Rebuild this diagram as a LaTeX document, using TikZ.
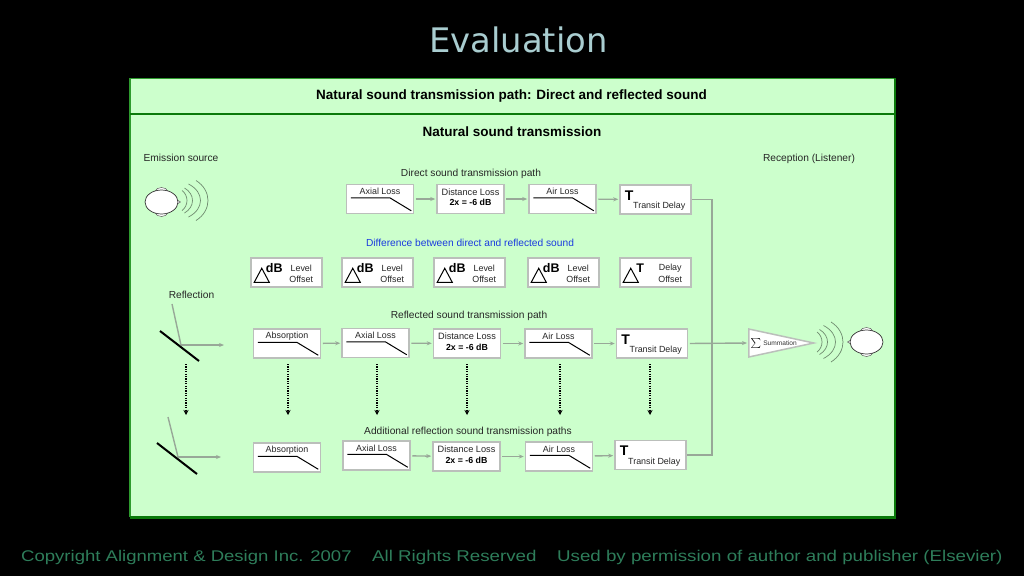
\documentclass[tikz,border=0pt]{standalone}
\usepackage{fontspec}
\setmainfont{Liberation Sans}
\newfontfamily\titlefont{DejaVu Sans}
\newfontfamily\footfont[FakeStretch=1.2]{Liberation Sans}
\usetikzlibrary{calc}
\usetikzlibrary{arrows.meta}
\usetikzlibrary{shapes.geometric}
\definecolor{panelgreen}{HTML}{CCFFCC}
\definecolor{edgegreen}{HTML}{2E9B2E}
\definecolor{darkgreen}{HTML}{0A7A0A}
\definecolor{flowgray}{HTML}{98A898}
\definecolor{boxgray}{HTML}{BBBFBB}
\definecolor{wavegray}{HTML}{6F8A6F}
\definecolor{titleblue}{HTML}{A9CDD0}
\definecolor{footgreen}{HTML}{2E7D5A}
\definecolor{diffblue}{HTML}{1A3ADF}
\tikzset{
  blockbox/.style={draw=boxgray,fill=white,line width=1.5pt,minimum width=#1,minimum height=29pt,inner sep=0pt},
  blockbox/.default=67pt,
  lbl/.style={text=black!85,inner sep=0pt,font=\fontsize{10.2}{12}\selectfont},
  small/.style={text=black!85,inner sep=0pt,font=\fontsize{8.9}{11}\selectfont},
  boldsmall/.style={text=black,inner sep=0pt,font=\fontsize{8.8}{11}\selectfont\bfseries},
  heading/.style={text=black,inner sep=0pt,font=\fontsize{13.5}{15}\selectfont\bfseries},
  flow/.style={-{Stealth[length=5pt,width=4pt]},flowgray,line width=1.4pt,shorten <=1.5pt,shorten >=1pt},
  bus/.style={flowgray,line width=1.4pt},
  dots/.style={-{Stealth[length=5pt,width=5pt]},black,dash pattern=on 1.2pt off 1.2pt,line width=1.2pt},
  curve/.style={black,line width=1pt},
  wave/.style={wavegray,line width=.7pt},
  foot/.style={text=footgreen,inner sep=0pt,font=\footfont\fontsize{15.6}{18}\selectfont}
}
% block with a loss curve
\newcommand{\lossblock}[4]{
  \node[blockbox] (#1) at (#2,#3) {};
  \node[small] (#1t) at ($(#1.north)+(0,8)$) {#4};
  \draw[curve] ($(#1.north west)+(5,14)$) -- ($(#1.north west)+(44,14)$) -- ($(#1.north east)+(-3,27)$);
}
\newcommand{\distblock}[3]{
  \node[blockbox] (#1) at (#2,#3) {};
  \node[small,font=\fontsize{9.2}{11}\selectfont] (#1t) at ($(#1.north)+(0,8)$) {Distance Loss};
  \node[boldsmall] (#1b) at ($(#1.north)+(0,19)$) {2x = -6 dB};
}
\newcommand{\delayblock}[3]{
  \node[blockbox=71pt] (#1) at (#2,#3) {};
  \node[text=black,inner sep=0pt,font=\fontsize{14}{16}\selectfont\bfseries] (#1s) at ($(#1.north west)+(10,11)$) {T};
  \node[small] (#1t) at ($(#1.north west)+(40,22)$) {Transit Delay};
}
\newcommand{\offsetblock}[5]{
  \node[blockbox=71pt] (#1) at (#2,272.5) {};
  \draw[black,line width=1pt] ($(#1.north west)+(4,25)$) -- ($(#1.north west)+(19,25)$) -- ($(#1.north west)+(11.5,11)$) -- cycle;
  \node[text=black,inner sep=0pt,font=\fontsize{12.5}{15}\selectfont\bfseries] (#1s) at ($(#1.north west)+(#5,11)$) {#3};
  \node[small] (#1a) at ($(#1.north west)+(51,11)$) {#4};
  \node[small] (#1b) at ($(#1.north west)+(51,22)$) {Offset};
}
% head seen from above, and its sound waves
\newcommand{\headshape}[3]{
  \begin{scope}[shift={(#1,#2)},xscale=#3]
  \draw[gray!70!black,fill=white,line width=.5pt] (14,-3) -- (19,0) -- (14,3);
  \draw[gray!70!black,fill=white,line width=.5pt] (-7,-10) .. controls (-5,-16) and (5,-16) .. (7,-10);
  \draw[gray!70!black,fill=white,line width=.5pt] (-7,10) .. controls (-5,16) and (5,16) .. (7,10);
  \draw[black!80,fill=white,line width=.7pt] (0,0) ellipse (16.5 and 12);
  \end{scope}
}
\newcommand{\soundwaves}[2]{
  \begin{scope}[shift={(#1,#2)}]
  \foreach \p/\h/\s in {-21/10/5,-15.5/12.5/8,-7.5/16.5/12,0/20/12}
    \draw[wave] ({\p-\s},-\h) .. controls ({\p+\s/3},{-.5*\h}) and ({\p+\s/3},{.5*\h}) .. ({\p-\s},\h);
  \end{scope}
}
\begin{document}
\begin{tikzpicture}[x=1pt,y=-1pt]
\useasboundingbox (0,0) rectangle (1024,576);
\fill [black] (0,0) rectangle (1024,576);
\fill [panelgreen] (130,78) rectangle (895,517);
\draw [edgegreen, line width=1.8pt] (130,517) -- (130,78.5) -- (895,78.5);
\draw [darkgreen, line width=2pt] (130,114) -- (895,114);
\draw [darkgreen, line width=2.8pt] (130,517.5) -- (895,517.5) -- (895,78);

\node [text=titleblue, inner sep=0pt, font=\titlefont\fontsize{33.8}{36}\selectfont] (title) at (518.5,39.5) {Evaluation};
\node [heading] (headA) at (511.5,96.5) {Natural sound transmission path: Direct and reflected sound};
\node [heading] (headB) at (512,131.5) {Natural sound transmission};
\node [lbl] (emission) at (181,158) {Emission source};
\node [lbl] (reception) at (809,158.5) {Reception (Listener)};
\node [lbl] (directlbl) at (471,173.5) {Direct sound transmission path};
\node [lbl, text=diffblue] (difflbl) at (470,242.5) {Difference between direct and reflected sound};
\node [lbl] (reflection) at (191.5,294.5) {Reflection};
\node [lbl] (reflectedlbl) at (469,315.5) {Reflected sound transmission path};
\node [lbl] (additionallbl) at (468,431.5) {Additional reflection sound transmission paths};

\headshape{161.5}{202}{1}
\soundwaves{208}{200.5}
\headshape{866.5}{342}{-1}
\soundwaves{843}{342}

\lossblock{axialA}{380}{199}{Axial Loss}
\distblock{distA}{470.5}{199}
\lossblock{airA}{562.5}{199}{Air Loss}
\delayblock{transitA}{655.5}{199.5}

\offsetblock{offsetA}{286.5}{dB}{Level}{24}
\offsetblock{offsetB}{377.5}{dB}{Level}{24}
\offsetblock{offsetC}{469.5}{dB}{Level}{24}
\offsetblock{offsetD}{563.5}{dB}{Level}{24}
\offsetblock{offsetE}{655.5}{T}{Delay}{21}

\lossblock{absorbB}{287}{343.5}{Absorption}
\lossblock{axialB}{375.5}{343}{Axial Loss}
\distblock{distB}{467}{343.5}
\lossblock{airB}{558.5}{343.5}{Air Loss}
\delayblock{transitB}{652}{343.5}

\lossblock{absorbC}{287}{457.5}{Absorption}
\lossblock{axialC}{376.5}{455.5}{Axial Loss}
\distblock{distC}{466.5}{456.5}
\lossblock{airC}{559}{456.5}{Air Loss}
\delayblock{transitC}{650.5}{455}

\draw [flow] (axialA) -- (distA);
\draw [flow] (distA) -- (airA);
\draw [flow] (airA) -- (transitA);
\draw [flow] (absorbB) -- (axialB);
\draw [flow] (axialB) -- (distB);
\draw [flow] (distB) -- (airB);
\draw [flow] (airB) -- (transitB);
\draw [flow] (axialC) -- (distC);
\draw [flow] (distC) -- (airC);
\draw [flow] (airC) -- (transitC);

\node [draw=boxgray, fill=white, line width=1.5pt, isosceles triangle, isosceles triangle stretches, shape border rotate=0, minimum width=28pt, minimum height=65pt, inner sep=0pt, anchor=west] (sumtri) at (748,343) {};
\node [inner sep=0pt, text=black] (sumsign) at (756,343) {$\sum$};
\node [text=black!80, inner sep=0pt, font=\fontsize{6.6}{8}\selectfont] (sumtxt) at (780,343) {Summation};

\coordinate (busmid) at (712,343);
\draw [bus] (transitA.east) -| (busmid) |- (transitC.east);
\draw [flow] (transitB.east) -- (sumtri.west);

\coordinate (hitB) at (181,345);
\coordinate (fromB) at (172,304);
\coordinate (outB) at (225,345);
\coordinate (mirrorBa) at (160,331);
\coordinate (mirrorBb) at (199,361);
\coordinate (hitC) at (178,457);
\coordinate (fromC) at (168,417);
\coordinate (outC) at (222,457);
\coordinate (mirrorCa) at (157,443);
\coordinate (mirrorCb) at (197,474);
\draw [bus] (fromB) -- (hitB);
\draw [flow, shorten <=0pt] (hitB) -- (outB);
\draw [black, line width=2pt] (mirrorBa) -- (mirrorBb);
\draw [bus] (fromC) -- (hitC);
\draw [flow, shorten <=0pt] (hitC) -- (outC);
\draw [black, line width=2pt] (mirrorCa) -- (mirrorCb);

\foreach \n/\x in {a/186,b/288,c/377,d/467,e/560,f/650} {
  \coordinate (dot\n s) at (\x,364);
  \coordinate (dot\n e) at (\x,415);
  \draw [dots] (dot\n s) -- (dot\n e);
}

\node [foot, anchor=west, font=\footfont\fontsize{15.45}{18}\selectfont] (footA) at (21,557.5) {Copyright Alignment \& Design Inc. 2007};
\node [foot, anchor=west] (footB) at (372,557.5) {All Rights Reserved};
\node [foot, anchor=west] (footC) at (557,557.5) {Used by permission of author and publisher (Elsevier)};
\end{tikzpicture}
\end{document}
